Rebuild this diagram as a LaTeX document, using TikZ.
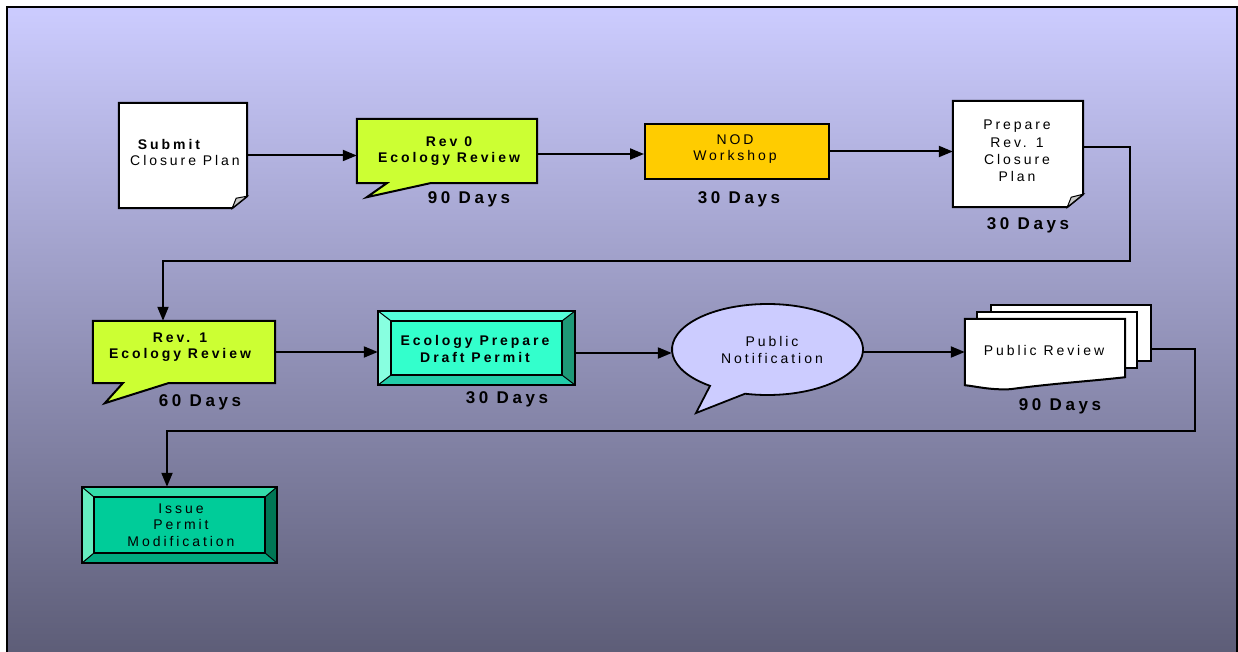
\documentclass[tikz,border=0pt]{standalone}
\usepackage{fontspec}
\newfontfamily\flowfont[LetterSpace=21]{Liberation Sans}
\usetikzlibrary{arrows.meta,calc,shapes.geometric}

\definecolor{bgtop}{RGB}{204,204,255}
\definecolor{bgbot}{RGB}{92,92,118}
\definecolor{lime}{RGB}{204,255,51}
\definecolor{amber}{RGB}{255,204,0}
\definecolor{foldgray}{RGB}{200,200,200}
\definecolor{lilac}{RGB}{204,204,255}
\definecolor{aquaC}{RGB}{51,255,204}
\definecolor{aquaT}{RGB}{85,255,218}
\definecolor{aquaL}{RGB}{136,255,224}
\definecolor{aquaR}{RGB}{30,153,119}
\definecolor{aquaB}{RGB}{34,204,168}
\definecolor{jadeC}{RGB}{0,204,153}
\definecolor{jadeT}{RGB}{51,221,170}
\definecolor{jadeL}{RGB}{102,238,192}
\definecolor{jadeR}{RGB}{0,119,85}
\definecolor{jadeB}{RGB}{0,170,128}

% bevelled box: #1 node name, #2 colour prefix, #3 horizontal inset, #4 vertical inset
\newcommand\bevelbox[4]{%
  \coordinate (#1-i1) at ([xshift=#3,yshift=-#4]#1.north west);
  \coordinate (#1-i2) at ([xshift=-#3,yshift=#4]#1.south east);
  \fill[#2T] (#1.north west) -- (#1.north east) -- (#1-i2 |- #1-i1) -- (#1-i1) -- cycle;
  \fill[#2L] (#1.north west) -- (#1-i1) -- (#1-i1 |- #1-i2) -- (#1.south west) -- cycle;
  \fill[#2R] (#1.north east) -- (#1.south east) -- (#1-i2) -- (#1-i2 |- #1-i1) -- cycle;
  \fill[#2B] (#1.south west) -- (#1-i1 |- #1-i2) -- (#1-i2) -- (#1.south east) -- cycle;
  \draw[line width=1pt] (#1.north west) -- (#1-i1) (#1.north east) -- (#1-i2 |- #1-i1)
    (#1.south west) -- (#1-i1 |- #1-i2) (#1.south east) -- (#1-i2);
  \draw[outline, fill=#2C] (#1-i1) rectangle (#1-i2);
  \draw[outline] (#1.north west) rectangle (#1.south east);
}

\begin{document}
\begin{tikzpicture}[x=1pt,y=-1pt,
  box/.style={draw=none, inner sep=0, rectangle},
  outline/.style={draw=black, line width=2pt, line join=miter},
  lbl/.style={font=\flowfont\fontsize{14}{16.5}\selectfont, align=center, inner sep=0},
  blbl/.style={font=\flowfont\bfseries\fontsize{14}{16.5}\selectfont, align=center, inner sep=0},
  days/.style={font=\flowfont\bfseries\fontsize{17}{19}\selectfont, inner sep=0},
  arr/.style={line width=2pt, -{Triangle[length=14pt,width=11pt]}}]

\useasboundingbox (0,0) rectangle (1238,652);

% backdrop panel
\begin{scope}
  \clip (0,0) rectangle (1238,652);
  \shade[top color=bgtop, bottom color=bgbot] (7,7) rectangle (1237,660);
  \draw[line width=2pt] (7,660) -- (7,7) -- (1237,7) -- (1237,660);
\end{scope}

% ---- row 1 ----
\node[box, minimum width=128pt, minimum height=105pt] (submit) at (183,155.5) {};
\draw[outline, fill=white] (submit.north west) -- (submit.north east)
  -- ([yshift=12pt]submit.south east) -- ([xshift=-15pt]submit.south east)
  -- (submit.south west) -- cycle;
\draw[line width=1pt, fill=foldgray] ([yshift=12pt]submit.south east)
  -- ([xshift=-11pt,yshift=10pt]submit.south east) -- ([xshift=-15pt]submit.south east) -- cycle;
\node[blbl] (submit-t1) at (169,144) {Submit};
\node[lbl] (submit-t2) at (185,160) {Closure Plan};

\node[box, minimum width=180pt, minimum height=64pt] (rev0) at (447,151) {};
\draw[outline, fill=lime] (rev0.north west) -- (rev0.north east) -- (rev0.south east)
  -- ([xshift=-107pt]rev0.south east) -- ([xshift=10pt,yshift=-14pt]rev0.south west)
  -- ([xshift=30pt]rev0.south west) -- (rev0.south west) -- cycle;
\node[blbl] (rev0-t) at (449,151) {Rev 0\\Ecology Review};
\node[days] (rev0-d) at (469,199) {90 Days};

\node[box, outline, fill=amber, minimum width=184pt, minimum height=55pt] (nod) at (737,151.5) {};
\node[lbl] (nod-t) at (735,149) {NOD\\Workshop};
\node[days] (nod-d) at (739,199) {30 Days};

\node[box, minimum width=130pt, minimum height=106pt] (prep) at (1018,154) {};
\draw[outline, fill=white] (prep.north west) -- (prep.north east)
  -- ([yshift=13pt]prep.south east) -- ([xshift=-16pt]prep.south east)
  -- (prep.south west) -- cycle;
\draw[line width=1pt, fill=foldgray] ([yshift=13pt]prep.south east)
  -- ([xshift=-12pt,yshift=10pt]prep.south east) -- ([xshift=-16pt]prep.south east) -- cycle;
\node[lbl, font=\flowfont\fontsize{14}{17.3}\selectfont] (prep-t) at (1017,151) {Prepare\\Rev. 1\\Closure\\ Plan};
\node[days] (prep-d) at (1028,225) {30 Days};

% ---- row 2 ----
\node[box, minimum width=182pt, minimum height=62pt] (rev1) at (184,352) {};
\draw[outline, fill=lime] (rev1.north west) -- (rev1.north east) -- (rev1.south east)
  -- ([xshift=-107pt]rev1.south east) -- ([xshift=12pt,yshift=-20pt]rev1.south west)
  -- ([xshift=30pt]rev1.south west) -- (rev1.south west) -- cycle;
\node[blbl] (rev1-t) at (180,347) {Rev. 1\\Ecology Review};
\node[days] (rev1-d) at (200,402) {60 Days};

\node[box, minimum width=197pt, minimum height=74pt] (eprep) at (476.5,348) {};
\bevelbox{eprep}{aqua}{13pt}{10pt}
\node[blbl] (eprep-t) at (475,349) {Ecology Prepare\\Draft Permit};
\node[days] (eprep-d) at (507,399) {30 Days};

\node[ellipse, draw=none, inner sep=0, minimum width=191pt, minimum height=91pt] (pubnot) at (767.5,349.5) {};
\coordinate (pubnot-tip) at (696,413);
\draw[outline, line width=1.8pt, fill=lilac] (pubnot.center) ++(127:95.5 and 45.5)
  arc[start angle=127, end angle=463.6, x radius=95.5, y radius=45.5]
  -- (pubnot-tip) -- cycle;
\node[lbl] (pubnot-t) at (772,350) {Public\\Notification};

\node[box, outline, fill=white, minimum width=160pt, minimum height=56pt] (pubrev3) at (1071,333) {};
\node[box, outline, fill=white, minimum width=160pt, minimum height=56pt] (pubrev2) at (1057,340) {};
\node[box, minimum width=160pt, minimum height=66pt] (pubrev) at (1045,352) {};
\draw[outline, fill=white] (pubrev.north west) -- (pubrev.north east)
  -- ([yshift=8pt]pubrev.south east)
  .. controls ([xshift=-35pt,yshift=4pt]pubrev.south east) and ([xshift=-70pt,yshift=2pt]pubrev.south east)
  .. ([xshift=-115pt,yshift=-4pt]pubrev.south east)
  .. controls ([xshift=-135pt,yshift=-5pt]pubrev.south east) and ([xshift=-150pt,yshift=-1pt]pubrev.south east)
  .. (pubrev.south west) -- cycle;
\node[lbl] (pubrev-t) at (1044,350) {Public Review};
\node[days] (pubrev-d) at (1060,406) {90 Days};

% ---- row 3 ----
\node[box, minimum width=195pt, minimum height=76pt] (issue) at (179.5,525) {};
\bevelbox{issue}{jade}{12.5pt}{10.5pt}
\node[lbl] (issue-t) at (181,525) {Issue\\Permit\\Modification};

% ---- connectors ----
\coordinate (turn1) at (1130,261);
\coordinate (turn2) at (1195,431);
\draw[arr] (submit.east) -- (submit.east -| rev0.west);
\draw[arr] ([yshift=-3pt]rev0.east) -- ([yshift=-3pt]rev0.east -| nod.west);
\draw[arr] (nod.east) -- (nod.east -| prep.west);
\draw[arr] ([yshift=7pt]prep.east) -| (turn1) -| ([xshift=-21pt]rev1.north);
\draw[arr] (rev1.east) -- (rev1.east -| eprep.west);
\draw[arr] ([yshift=-5pt]eprep.east) -- ([yshift=-5pt]eprep.east -| pubnot.west);
\draw[arr] (pubrev.west -| pubnot.east) -- (pubrev.west);
\draw[arr] ([yshift=-16pt]pubrev3.east) -| (turn2) -| ([xshift=-12.5pt]issue.north);

\end{tikzpicture}
\end{document}
